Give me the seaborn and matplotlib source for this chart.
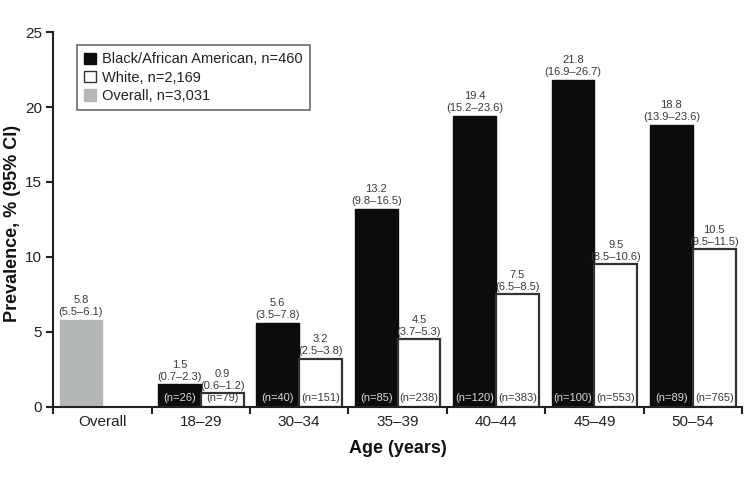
import matplotlib
matplotlib.use('Agg')
import matplotlib.pyplot as plt
from matplotlib.patches import Patch
import pandas as pd
import seaborn as sns

# data
categories = ['Overall', '18\u201329', '30\u201334', '35\u201339', '40\u201344', '45\u201349', '50\u201354']
black_vals = [5.8, 1.5, 5.6, 13.2, 19.4, 21.8, 18.8]   # first one is the "Overall" bar
black_ci = ['(5.5\u20136.1)', '(0.7\u20132.3)', '(3.5\u20137.8)', '(9.8\u201316.5)',
            '(15.2\u201323.6)', '(16.9\u201326.7)', '(13.9\u201323.6)']
black_n = [None, 26, 40, 85, 120, 100, 89]
white_vals = [None, 0.9, 3.2, 4.5, 7.5, 9.5, 10.5]
white_ci = [None, '(0.6\u20131.2)', '(2.5\u20133.8)', '(3.7\u20135.3)',
            '(6.5\u20138.5)', '(8.5\u201310.6)', '(9.5\u201311.5)']
white_n = [None, 79, 151, 238, 383, 553, 765]
legend_labels = ['Black/African American, n=460', 'White, n=2,169', 'Overall, n=3,031']

sns.set_style('ticks')
plt.rcParams['font.family'] = ['Liberation Sans', 'DejaVu Sans']

rows = []
for i, c in enumerate(categories):
  rows.append({'age': c, 'group': 'Black', 'prev': black_vals[i]})
  if white_vals[i] is not None:
    rows.append({'age': c, 'group': 'White', 'prev': white_vals[i]})
df = pd.DataFrame(rows)

fig, ax = plt.subplots(figsize=(7.48, 4.86), dpi=100)
fig.subplots_adjust(left=0.071, right=0.992, top=0.934, bottom=0.163)

sns.barplot(data=df, x='age', y='prev', hue='group', order=categories,
            hue_order=['Black', 'White'], palette={'Black': '#0c0c0c', 'White': 'white'},
            width=0.87, dodge=True, legend=False, ax=ax, errorbar=None)

gray = '#b4b8b4'
bars = list(ax.patches)
# patches come out per hue level, in category order
black_bars = bars[:len(categories)]
white_bars = bars[len(categories):]
for b in black_bars:
  b.set_edgecolor('#0c0c0c')
  b.set_linewidth(1.0)
black_bars[0].set_facecolor(gray)
black_bars[0].set_edgecolor(gray)
for b in white_bars:
  b.set_edgecolor('#333333')
  b.set_linewidth(1.6)

txt_col = '#3a3a3a'
def annotate(bar, val, ci, n, inside_col):
  x = bar.get_x() + bar.get_width() / 2
  ax.annotate('{}\n{}'.format(val, ci), (x, bar.get_height()), xytext=(0, 2),
              textcoords='offset points', ha='center', va='bottom',
              fontsize=8, color=txt_col, linespacing=1.25)
  if n is not None:
    ax.annotate('(n={})'.format(n), (x, 0), xytext=(0, 3), textcoords='offset points',
                ha='center', va='bottom', fontsize=8, color=inside_col)

for i, b in enumerate(black_bars):
  annotate(b, black_vals[i], black_ci[i], black_n[i], '#d8d8d8')
wi = [i for i, v in enumerate(white_vals) if v is not None]
for b, i in zip(white_bars, wi):
  annotate(b, white_vals[i], white_ci[i], white_n[i], txt_col)

ax.set_xlim(-0.5, len(categories) - 0.5)
ax.set_ylim(0, 25)
ax.set_yticks([0, 5, 10, 15, 20, 25])
ax.set_xticks(range(len(categories)))
ax.set_xticks([i - 0.5 for i in range(len(categories) + 1)], minor=True)
ax.tick_params(axis='x', which='major', length=0, pad=6, labelsize=11, labelcolor='#222222')
ax.tick_params(axis='x', which='minor', length=5, width=1.5, color='#222222')
ax.tick_params(axis='y', length=5, width=1.5, pad=3, labelsize=11, color='#222222', labelcolor='#222222')
for s in ['left', 'bottom']:
  ax.spines[s].set_linewidth(1.5)
  ax.spines[s].set_color('#222222')
sns.despine(ax=ax)

ax.set_xlabel('Age (years)', fontsize=13, fontweight='bold', color='#111111', labelpad=8)
ax.set_ylabel('Prevalence, % (95% CI)', fontsize=13, fontweight='bold', color='#111111')
ax.yaxis.set_label_coords(-0.047, 0.49)

handles = [Patch(facecolor='#0c0c0c', edgecolor='#0c0c0c'),
           Patch(facecolor='white', edgecolor='#333333', linewidth=1.0),
           Patch(facecolor=gray, edgecolor=gray)]
leg = ax.legend(handles, legend_labels, loc='upper left', bbox_to_anchor=(0.024, 0.985),
                fontsize=10.5, frameon=True, fancybox=False, handlelength=0.8,
                handleheight=0.8, handletextpad=0.4, labelspacing=0.3, borderpad=0.5)
leg.get_frame().set_edgecolor('#444444')
leg.get_frame().set_linewidth(1.2)
for t in leg.get_texts():
  t.set_color('#222222')

fig.savefig('out.png', dpi=100)
